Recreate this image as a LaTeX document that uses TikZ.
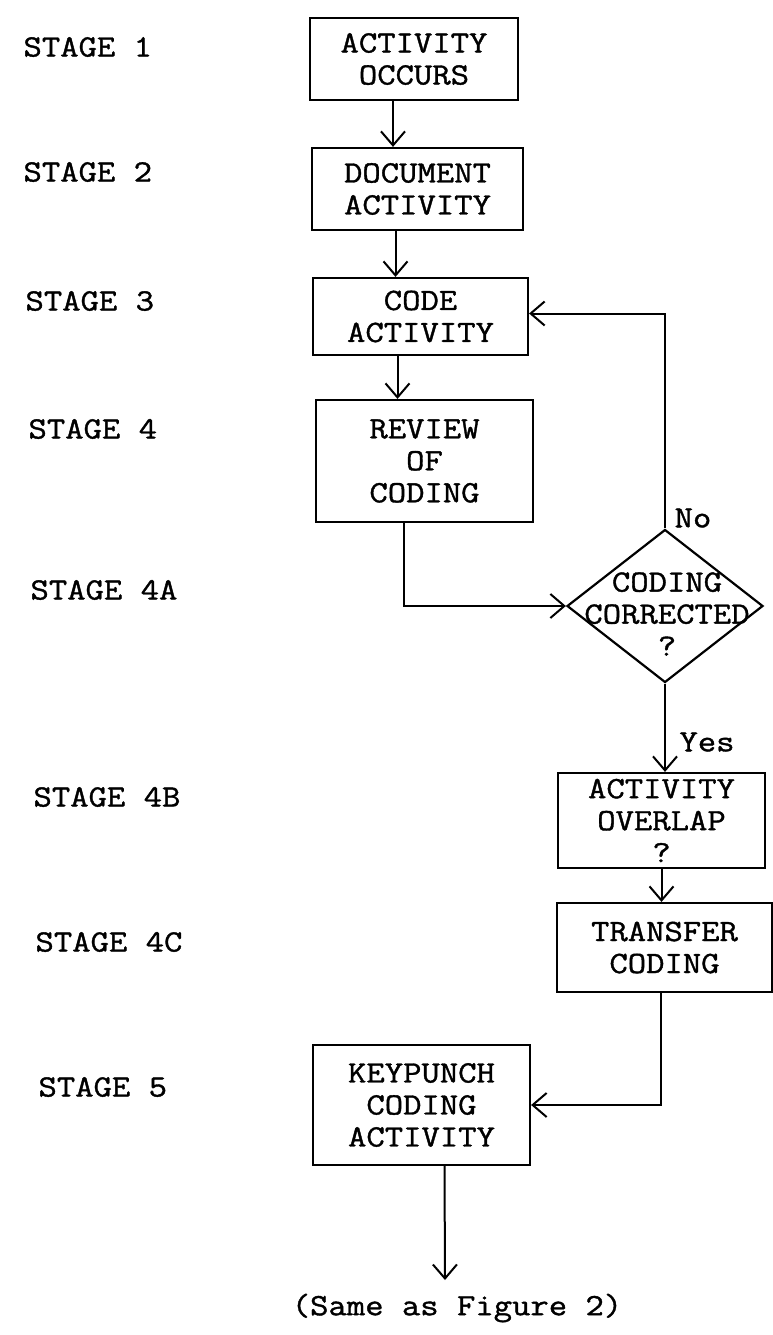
\documentclass[tikz,border=0pt]{standalone}
\usepackage{fontspec}
\newfontfamily\typewriter[FakeStretch=1.15, FakeBold=1.2]{Latin Modern Mono}
\usetikzlibrary{arrows.meta,shapes.geometric}

\tikzset{
  stageBox/.style={draw, line width=2.2pt, align=center, inner sep=0pt},
  stageLabel/.style={anchor=west},
  flowArrow/.style={line width=2pt, -{Straight Barb[length=14pt, width=24pt, line width=2pt]}},
  flowLine/.style={line width=2pt}
}

\begin{document}
\begin{tikzpicture}[x=1pt, y=-1pt, font={\typewriter\fontsize{31}{32}\selectfont}]
    \useasboundingbox (0,0) rectangle (773,1335);
    % stage labels down the left margin
    \foreach \lab/\x/\y in {%
      1/20/47, 2/20/172, 3/22/301, 4/25/429,%
      4A/27/590, 4B/30/797, 4C/32/942, 5/35/1087%
    }{%
      \node[stageLabel] (stage\lab) at (\x, \y) {STAGE \lab};
    }
    % boxes
    \node[stageBox, minimum width=208pt, minimum height=82pt] (occurs) at (414, 59)
      {ACTIVITY\\OCCURS};
    \node[stageBox, minimum width=211pt, minimum height=82pt] (document) at (417.5, 189)
      {DOCUMENT\\ACTIVITY};
    \node[stageBox, minimum width=215pt, minimum height=77pt] (code) at (420.5, 316.5)
      {CODE\\ACTIVITY};
    \node[stageBox, minimum width=217pt, minimum height=122pt] (review) at (424.5, 461)
      {REVIEW\\OF\\CODING};
    \node[draw, diamond, line width=2.2pt, minimum width=196pt, minimum height=153pt,
      inner sep=0pt] (decide) at (665, 606) {};
    \node[align=center] (decideText) at (667, 614) {CODING\\CORRECTED\\?};
    \node[stageBox, minimum width=207pt, minimum height=95pt] (overlap) at (661.5, 820.5)
      {ACTIVITY\\OVERLAP\\?};
    \node[stageBox, minimum width=215pt, minimum height=89pt] (transfer) at (664.5, 947.5)
      {TRANSFER\\CODING};
    \node[stageBox, minimum width=217pt, minimum height=120pt] (keypunch) at (421.5, 1105)
      {KEYPUNCH\\CODING\\ACTIVITY};
    \coordinate (figEnd) at (445, 1280);
    \node (sameAs) at (457, 1308) {(Same as Figure 2)};
    % connectors
    \draw[flowArrow] ([xshift=-21pt]occurs.south) -- ([xshift=-21pt]occurs.south |- document.north);
    \draw[flowArrow] ([xshift=-22pt]document.south) -- ([xshift=-22pt]document.south |- code.north);
    \draw[flowArrow] ([xshift=-23pt]code.south) -- ([xshift=-23pt]code.south |- review.north);
    \draw[flowArrow] ([xshift=-21pt]review.south) |- (decide.west);
    \draw[flowArrow] (decide.north) |- ([yshift=3pt]code.east);
    \node (no) at (693, 518) {No};
    \draw[flowArrow] (decide.south) -- (decide.south |- overlap.north);
    \node (yes) at (707, 742) {Yes};
    \draw[flowArrow] (overlap.south) -- (overlap.south |- transfer.north);
    \draw[flowArrow] ([xshift=-4pt]transfer.south) |- (keypunch.east);
    \draw[flowArrow] ([xshift=23pt]keypunch.south) -- (figEnd);
\end{tikzpicture}
\end{document}
